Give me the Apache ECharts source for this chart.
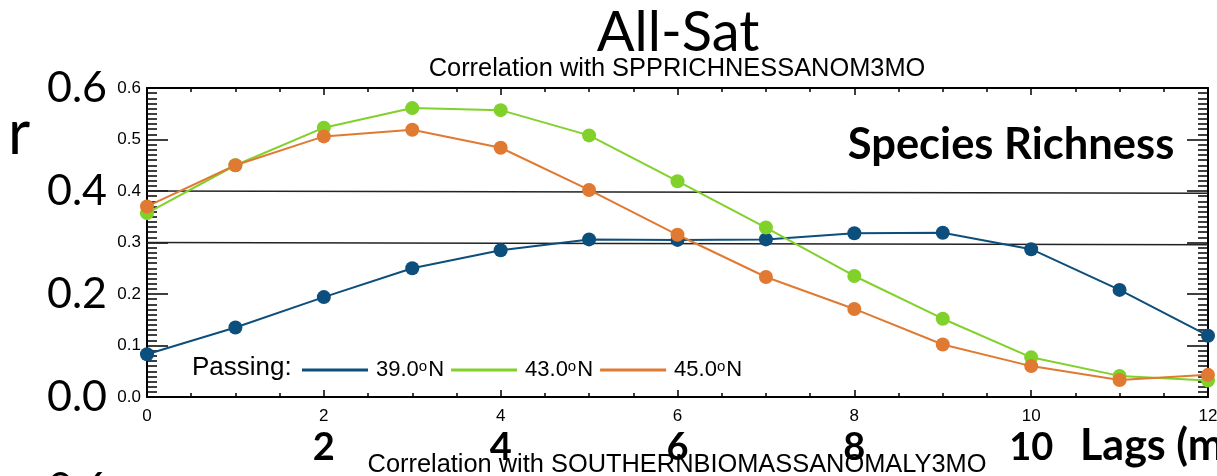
<!DOCTYPE html>
<html><head><meta charset="utf-8">
<script src="https://cdn.jsdelivr.net/npm/echarts@6/dist/echarts.min.js"></script>
<style>html,body{margin:0;padding:0;background:#fff;}#c{width:1217px;height:476px;}</style>
</head><body><div id="c"></div>
<script>
// ---- data ----
const lags = [0,1,2,3,4,5,6,7,8,9,10,11,12];
const seriesNames = ['39.0ºN', '43.0ºN', '45.0ºN'];
const r39N = [0.083, 0.135, 0.194, 0.250, 0.285, 0.306, 0.305, 0.306, 0.318, 0.319, 0.287, 0.208, 0.119];
const r43N = [0.357, 0.450, 0.523, 0.561, 0.557, 0.508, 0.419, 0.329, 0.235, 0.152, 0.077, 0.041, 0.032];
const r45N = [0.370, 0.450, 0.506, 0.519, 0.484, 0.402, 0.315, 0.233, 0.171, 0.102, 0.060, 0.033, 0.043];
const refLineStart = [0.4, 0.3];     // value at lag 0
const refLineEnd = [0.3955, 0.2955]; // value at lag 12
const titleText = 'All-Sat';
const subtitleText = 'Correlation with SPPRICHNESSANOM3MO';
const panelLabel = 'Species Richness';
const nextSubtitleText = 'Correlation with SOUTHERNBIOMASSANOMALY3MO';
const xAxisName = 'Lags (months)';
const yAxisName = 'r';

const colors = ['#0c4e7c', '#80d12a', '#e07a32'];
const seriesValues = [r39N, r43N, r45N];
const SANS = 'Liberation Sans';
const BIG = 'Lato';

const chart = echarts.init(document.getElementById('c'), null, {renderer: 'canvas'});

const frameLine = {show: true, onZero: false, lineStyle: {color: '#000', width: 2}};
const series = [];
refLineStart.forEach((v, i) => {
  series.push({
    type: 'line', silent: true, z: 1, symbol: 'none', clip: false,
    xAxisIndex: 0, yAxisIndex: 0,
    data: [[lags[0], v], [lags[lags.length - 1], refLineEnd[i]]],
    lineStyle: {color: '#222', width: 1.5}
  });
});
seriesNames.forEach((name, i) => {
  series.push({
    name, type: 'line', z: 2 + i, clip: false,
    xAxisIndex: 0, yAxisIndex: 0,
    data: lags.map((l, j) => [l, seriesValues[i][j]]),
    symbol: 'circle', symbolSize: 14, showSymbol: true,
    itemStyle: {color: colors[i]},
    lineStyle: {color: colors[i], width: 2}
  });
});

const option = {
  animation: false,
  backgroundColor: '#fff',
  grid: {left: 147, right: 9, top: 88, bottom: 79, outerBoundsMode: 'none', containLabel: false},
  legend: {
    data: seriesNames, left: 302, top: 359, padding: 0, icon: 'rect', itemWidth: 66, itemHeight: 3,
    itemGap: 7,
    textStyle: {fontFamily: SANS, fontSize: 22, color: '#000', padding: [0, 0, 0, 3],
      rich: {s: {fontFamily: SANS, fontSize: 15, verticalAlign: 'top', color: '#000', padding: [0, 1, 0, 0]}}},
    formatter: n => n.replace('º', '{s|o}'),
    selectedMode: false
  },
  xAxis: [
    {type: 'value', position: 'bottom', min: 0, max: 12, interval: 2,
      axisLine: frameLine,
      axisTick: {show: true, inside: true, length: 7, lineStyle: {color: '#000', width: 1.5}},
      minorTick: {show: true, splitNumber: 4, length: 4, lineStyle: {color: '#000', width: 1.5}},
      splitLine: {show: false},
      axisLabel: {fontFamily: SANS, fontSize: 17, color: '#000', margin: 11}},
    {type: 'value', position: 'top', min: 0, max: 12, interval: 2,
      axisLine: frameLine,
      axisTick: {show: true, inside: true, length: 7, lineStyle: {color: '#000', width: 1.5}},
      minorTick: {show: true, splitNumber: 4, length: 4, lineStyle: {color: '#000', width: 1.5}},
      splitLine: {show: false}, axisLabel: {show: false}},
    {type: 'value', position: 'bottom', min: 0, max: 12, interval: 2,
      axisLine: {show: false, onZero: false}, axisTick: {show: false}, splitLine: {show: false},
      axisLabel: {fontFamily: BIG, fontWeight: 'bold', fontSize: 38, color: '#000', margin: 32,
        formatter: v => (v === 0 || v === 12) ? '' : String(v)}}
  ],
  yAxis: [
    {type: 'value', position: 'left', min: 0, max: 0.6, interval: 0.1,
      axisLine: frameLine,
      axisTick: {show: true, inside: true, length: 21, lineStyle: {color: '#000', width: 1.5}},
      minorTick: {show: true, splitNumber: 10, length: 10, lineStyle: {color: '#000', width: 1.5}},
      splitLine: {show: false},
      axisLabel: {fontFamily: SANS, fontSize: 17, color: '#000', margin: 6, formatter: v => v.toFixed(1)}},
    {type: 'value', position: 'right', min: 0, max: 0.6, interval: 0.1,
      axisLine: frameLine,
      axisTick: {show: true, inside: true, length: 21, lineStyle: {color: '#000', width: 1.5}},
      minorTick: {show: true, splitNumber: 10, length: 10, lineStyle: {color: '#000', width: 1.5}},
      splitLine: {show: false}, axisLabel: {show: false}},
    {type: 'value', position: 'left', min: 0, max: 0.6, interval: 0.2,
      axisLine: {show: false, onZero: false}, axisTick: {show: false}, splitLine: {show: false},
      axisLabel: {fontFamily: BIG, fontSize: 43, color: '#000', margin: 40, formatter: v => v.toFixed(1)}}
  ],
  graphic: [
    {type: 'text', x: 678, y: 33, style: {text: titleText, font: '56px Lato', fill: '#000', align: 'center', verticalAlign: 'middle'}},
    {type: 'text', x: 677, y: 69, style: {text: subtitleText, font: '25.4px "Liberation Sans"', fill: '#000', align: 'center', verticalAlign: 'middle'}},
    {type: 'text', x: 1011, y: 145, style: {text: panelLabel, font: 'bold 43.5px Lato', fill: '#000', align: 'center', verticalAlign: 'middle'}},
    {type: 'text', x: 8, y: 134, style: {text: yAxisName, font: '61px Lato', fill: '#000', align: 'left', verticalAlign: 'middle'}},
    {type: 'text', x: 1080, y: 446, style: {text: xAxisName, font: 'bold 43px Lato', fill: '#000', align: 'left', verticalAlign: 'middle'}},
    {type: 'text', x: 192, y: 368, style: {text: 'Passing:', font: '26px "Liberation Sans"', fill: '#000', align: 'left', verticalAlign: 'middle'}},
    {type: 'text', x: 677, y: 465, style: {text: nextSubtitleText, font: '25.4px "Liberation Sans"', fill: '#000', align: 'center', verticalAlign: 'middle'}},
    {type: 'text', x: 48, y: 489, style: {text: '0.6', font: '43px Lato', fill: '#000', align: 'left', verticalAlign: 'middle'}}
  ],
  series
};
chart.setOption(option);
</script></body></html>
